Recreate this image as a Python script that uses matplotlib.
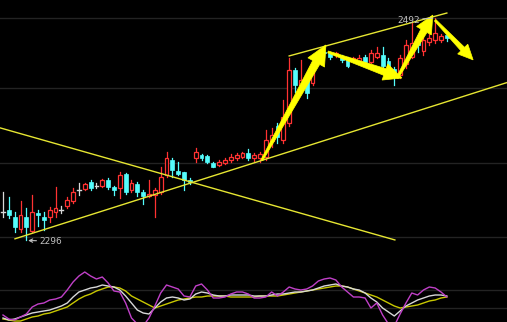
import matplotlib
matplotlib.use("Agg")
import matplotlib.pyplot as plt
from matplotlib.patches import Rectangle, Polygon

# ---------------- data ----------------
opens = [2321, 2322, 2316, 2306, 2316, 2304, 2320, 2316, 2316, 2321,
         2322, 2326, 2330, 2340, 2341, 2347, 2344, 2344, 2349, 2343,
         2342, 2354, 2340, 2345, 2338, 2335, 2336, 2338, 2353, 2367,
         2357, 2356, 2349, 2368, 2371, 2370, 2364, 2362, 2364, 2367,
         2368, 2369, 2373, 2368, 2368, 2369, 2383, 2397, 2384, 2399,
         2446, 2433, 2437, 2435, 2458, 2462, 2461, 2459, 2458, 2455,
         2455, 2453, 2458, 2453, 2458, 2459, 2454, 2447, 2442, 2451,
         2458, 2473, 2463, 2471, 2473, 2473, 2477]
highs = [2338, 2334, 2321, 2330, 2324, 2336, 2322, 2321, 2325, 2343,
         2326, 2334, 2342, 2346, 2346, 2349, 2346, 2350, 2351, 2344,
         2356, 2355, 2349, 2347, 2340, 2349, 2342, 2360, 2374, 2368,
         2365, 2356, 2351, 2377, 2372, 2371, 2365, 2367, 2368, 2372,
         2373, 2374, 2376, 2373, 2374, 2393, 2395, 2399, 2420, 2457,
         2448, 2455, 2439, 2448, 2464, 2467, 2462, 2462, 2459, 2458,
         2458, 2459, 2459, 2464, 2466, 2466, 2457, 2449, 2459, 2473,
         2488, 2475, 2481, 2478, 2492, 2478, 2478]
lows = [2316, 2315, 2303, 2303, 2296, 2303, 2308, 2305, 2312, 2316,
        2320, 2324, 2329, 2336, 2340, 2340, 2342, 2343, 2341, 2336,
        2333, 2337, 2338, 2335, 2328, 2334, 2316, 2337, 2352, 2352,
        2353, 2340, 2345, 2365, 2367, 2364, 2360, 2361, 2363, 2365,
        2367, 2368, 2367, 2366, 2365, 2367, 2378, 2382, 2382, 2397,
        2427, 2431, 2421, 2433, 2455, 2458, 2456, 2458, 2453, 2449,
        2454, 2452, 2452, 2452, 2457, 2449, 2446, 2433, 2439, 2448,
        2457, 2462, 2459, 2468, 2470, 2471, 2472]
closes = [2321, 2318, 2307, 2318, 2307, 2321, 2318, 2314, 2322, 2324,
          2322, 2331, 2338, 2340, 2345, 2342, 2344, 2349, 2343, 2340,
          2353, 2338, 2346, 2338, 2335, 2337, 2340, 2352, 2368, 2358,
          2354, 2349, 2347, 2374, 2368, 2365, 2360, 2365, 2367, 2369,
          2371, 2373, 2368, 2371, 2372, 2384, 2389, 2387, 2405, 2446,
          2433, 2437, 2426, 2444, 2461, 2461, 2458, 2461, 2455, 2450,
          2457, 2457, 2453, 2461, 2461, 2450, 2449, 2443, 2457, 2468,
          2470, 2468, 2473, 2474, 2479, 2476, 2474]

# lower indicator panel (three lines, arbitrary units)
ind_magenta = [15, 11, 10, 13, 16, 23, 26, 27, 30, 31, 33, 40, 48, 54, 58, 54, 51, 53, 47, 39,
               38, 27, 12, 6, 4, 12, 24, 37, 45, 43, 41, 34, 33, 44, 46, 40, 32, 32, 33, 36,
               38, 38, 36, 32, 32, 33, 38, 34, 38, 43, 41, 40, 41, 44, 49, 51, 52, 50, 43, 38,
               33, 33, 32, 22, 27, 15, 6, 4, 16, 27, 37, 35, 40, 43, 42, 38, 33]
ind_white = [12, 10, 11, 13, 15, 17, 18, 19, 20, 22, 24, 27, 33, 38, 40, 42, 43, 45, 44, 43,
             40, 34, 27, 20, 17, 16, 22, 28, 32, 33, 32, 30, 31, 36, 38, 37, 35, 34, 34, 35,
             35, 35, 35, 34, 34, 34, 35, 36, 36, 37, 38, 38, 39, 40, 42, 44, 45, 46, 44, 43,
             41, 40, 37, 32, 28, 22, 18, 14, 19, 24, 27, 30, 32, 34, 35, 35, 34]
ind_yellow = [11, 10, 9, 9, 11, 13, 14, 16, 17, 19, 21, 23, 27, 31, 34, 36, 39, 41, 43, 43,
              42, 39, 34, 31, 28, 25, 22, 24, 26, 28, 30, 31, 32, 33, 33, 34, 34, 34, 34, 33,
              33, 33, 33, 33, 34, 34, 34, 34, 35, 36, 37, 38, 39, 40, 41, 42, 43, 44, 44, 43,
              41, 39, 37, 35, 33, 30, 27, 24, 22, 23, 24, 25, 27, 29, 30, 32, 33]

grid_levels = [2492, 2430, 2364, 2299]
ind_grid = [40, 22]

# trend lines: (bar index pair, price pair)
trend_down = ([-0.51, 67.1], [2395, 2296])
trend_up = ([2.05, 86.3], [2297, 2435])
channel_top = ([49.0, 76.0], [2458.5, 2496.4])

# arrows: (tail index, tail price, tip index, tip price)
arrows = [
    (44.35, 2366.6, 55.3, 2468.2),
    (55.65, 2462.0, 68.3, 2439.0),
    (67.5, 2439.0, 73.6, 2494.6),
    (74.0, 2490.0, 80.5, 2455.0),
]

high_label = "2492"
low_label = "2296"

# ---------------- figure ----------------
BG = "#000000"
RED = "#ff3232"
CYAN = "#54fcfc"
GRID = "#232323"
TXT = "#c0c0c0"

fig = plt.figure(figsize=(5.07, 3.22), dpi=100, facecolor=BG)
ax = fig.add_axes([0, 67 / 322, 1, 255 / 322], facecolor=BG)
ax2 = fig.add_axes([0, 0, 1, 67 / 322], facecolor=BG)

xlim = (-3 / 5.84, 504 / 5.84)
for a in (ax, ax2):
    a.set_xlim(*xlim)
    a.axis("off")
ax.set_ylim(2282.7, 2507.9)
ax2.set_ylim(8, 75)

for g in grid_levels:
    ax.axhline(g, color=GRID, lw=1.0, zorder=0)
for g in ind_grid:
    ax2.axhline(g, color=GRID, lw=1.0, zorder=0)

bw = 0.66
for i, (o, h, l, c) in enumerate(zip(opens, highs, lows, closes)):
    top, bot = max(o, c), min(o, c)
    if abs(c - o) < 0.5:
        col = "#d8d8d8"
        ax.plot([i, i], [l, h], color=col, lw=0.9, zorder=2)
        ax.plot([i - bw / 2, i + bw / 2], [o, o], color=col, lw=1.0, zorder=2)
    elif c > o:
        ax.plot([i, i], [top, h], color=RED, lw=0.9, zorder=2)
        ax.plot([i, i], [l, bot], color=RED, lw=0.9, zorder=2)
        ax.add_patch(Rectangle((i - bw / 2, bot), bw, top - bot, facecolor=BG,
                               edgecolor=RED, lw=0.9, zorder=3))
    else:
        ax.plot([i, i], [l, h], color=CYAN, lw=0.9, zorder=2)
        ax.add_patch(Rectangle((i - bw / 2, bot), bw, max(top - bot, 0.9),
                               facecolor=CYAN, edgecolor=CYAN, lw=0.5, zorder=3))

for xs, ys in (trend_down, trend_up, channel_top):
    ax.plot(xs, ys, color="#e6e632", lw=1.0, zorder=4)

fig.canvas.draw()


def wedge_arrow(a, x0, y0, x1, y1, tail_w=2.0, shaft_w=8.0, head_w=19.0, head_len=20.0):
    import numpy as np
    p0 = np.array(a.transData.transform((x0, y0)))
    p1 = np.array(a.transData.transform((x1, y1)))
    d = p1 - p0
    u = d / np.hypot(*d)
    n = np.array([-u[1], u[0]])
    b = p1 - u * head_len
    verts = [p0 + n * tail_w / 2, b + n * shaft_w / 2, b + n * head_w / 2, p1,
             b - n * head_w / 2, b - n * shaft_w / 2, p0 - n * tail_w / 2]
    a.add_patch(Polygon(verts, closed=True, transform=None, facecolor="#ffff00",
                        edgecolor="#ffff00", lw=0.5, zorder=6))


sizes = [(2.0, 8.0, 19.0, 20.0), (2.0, 7.0, 17.0, 18.0), (2.0, 7.0, 17.0, 18.0), (2.0, 5.0, 14.0, 15.0)]
for (x0, y0, x1, y1), s in zip(arrows, sizes):
    wedge_arrow(ax, x0, y0, x1, y1, *s)

peak_i = highs.index(max(highs))
ax.annotate(high_label, xy=(peak_i - 0.4, max(highs)), xytext=(71.4, 2490),
            ha="right", va="center", color=TXT, fontsize=6.5,
            arrowprops=dict(arrowstyle="-", color=TXT, lw=0.8, shrinkA=0, shrinkB=0), zorder=7)
low_i = lows.index(min(lows))
ax.annotate(low_label, xy=(low_i + 0.3, min(lows) - 0.5), xytext=(6.2, 2295),
            ha="left", va="center", color=TXT, fontsize=6.5,
            arrowprops=dict(arrowstyle="->", color=TXT, lw=0.8, shrinkA=0, shrinkB=0,
                            mutation_scale=6), zorder=7)

xi = list(range(len(ind_white)))
ax2.plot(xi, ind_yellow, color="#c8c800", lw=1.0, zorder=3)
ax2.plot(xi, ind_white, color="#d8d8d8", lw=1.0, zorder=4)
ax2.plot(xi, ind_magenta, color="#c040c8", lw=1.0, zorder=5)

fig.savefig("out.png", dpi=100, facecolor=BG)
